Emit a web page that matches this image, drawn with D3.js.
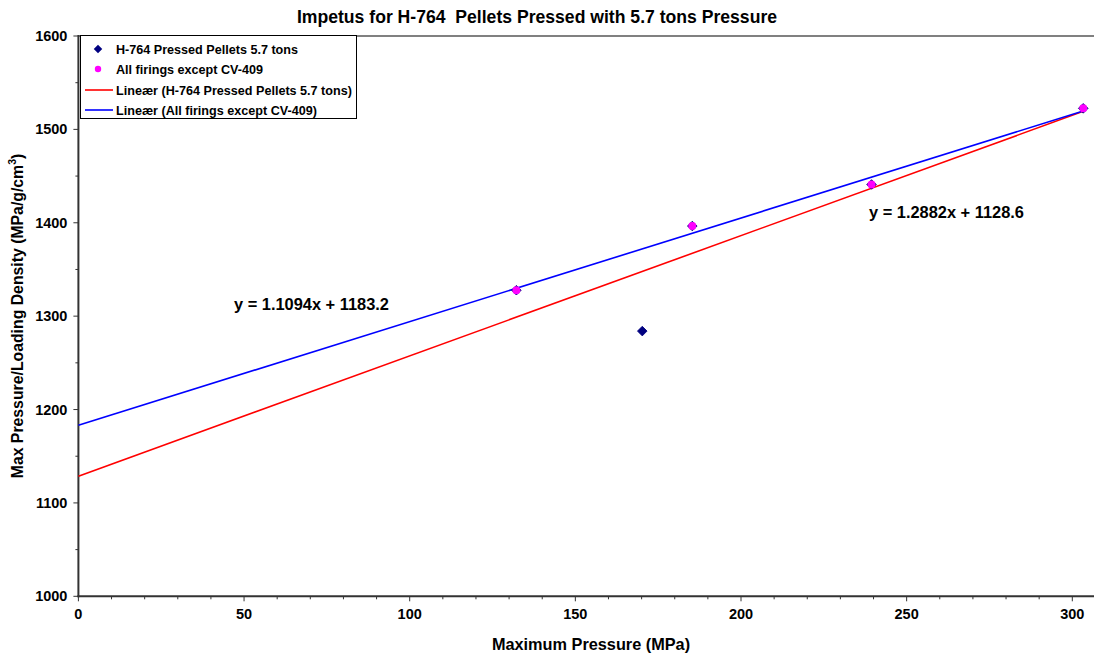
<!DOCTYPE html>
<html><head><meta charset="utf-8">
<script src="https://cdn.jsdelivr.net/npm/d3@7"></script>
<style>
body{margin:0;background:#fff;}
text{font-family:"Liberation Sans",Arial,sans-serif;font-weight:bold;fill:#000;}
</style></head>
<body><svg id="c" width="1094" height="656"></svg>
<script>
// ---- data ----
const h764X = [132.2, 170.2, 185.3, 239.4, 303.3];
const h764Y = [1327.8, 1284.0, 1396.5, 1441.0, 1522.5];
const allX = [132.2, 185.3, 239.4, 303.3];
const allY = [1327.8, 1396.5, 1441.0, 1522.5];
const trendRed = {slope: 1.2882, intercept: 1128.6};
const trendBlue = {slope: 1.1094, intercept: 1183.2};
const xTicks = [0, 50, 100, 150, 200, 250, 300];
const yTicks = [1000, 1100, 1200, 1300, 1400, 1500, 1600];
const legendLabels = ["H-764 Pressed Pellets 5.7 tons", "All firings except CV-409",
  "Lineær (H-764 Pressed Pellets 5.7 tons)", "Lineær (All firings except CV-409)"];
const titleText = "Impetus for H-764\u00a0 Pellets Pressed with 5.7 tons Pressure";
const xTitle = "Maximum Pressure (MPa)";

const svg = d3.select("#c");
const x = d3.scaleLinear().domain([0, 300]).range([78.4, 1072.3]);
const y = d3.scaleLinear().domain([1000, 1600]).range([596.3, 36]);
const xEnd = 1094;

// top gray border
svg.append("line").attr("x1", x(0)).attr("x2", xEnd).attr("y1", y(1600)).attr("y2", y(1600))
  .attr("stroke", "#808080").attr("stroke-width", 2);

// X axis
const gx = svg.append("g");
gx.append("line").attr("x1", x(0)-1).attr("x2", xEnd).attr("y1", y(1000)).attr("y2", y(1000))
  .attr("stroke", "#333").attr("stroke-width", 2);
const xMinor = d3.range(0, 310, 10);
gx.selectAll(".xm").data(xMinor).join("line")
  .attr("x1", d => x(d)).attr("x2", d => x(d))
  .attr("y1", y(1000)).attr("y2", d => y(1000) + (d % 50 === 0 ? 5 : 3))
  .attr("stroke", "#333").attr("stroke-width", 1);
gx.selectAll(".xl").data(xTicks).join("text")
  .attr("x", d => x(d)).attr("y", y(1000) + 23).attr("text-anchor", "middle")
  .attr("font-size", 14.5).text(d => d);

// Y axis
const gy = svg.append("g");
gy.append("line").attr("x1", x(0)).attr("x2", x(0)).attr("y1", y(1600)-1).attr("y2", y(1000)+1)
  .attr("stroke", "#333").attr("stroke-width", 2);
const yMinor = d3.range(1000, 1650, 50);
gy.selectAll(".ym").data(yMinor).join("line")
  .attr("x1", d => x(0) - (d % 100 === 0 ? 5 : 3)).attr("x2", x(0))
  .attr("y1", d => y(d)).attr("y2", d => y(d))
  .attr("stroke", "#333").attr("stroke-width", 1);
gy.selectAll(".yl").data(yTicks).join("text")
  .attr("x", x(0) - 11).attr("y", d => y(d) + 5).attr("text-anchor", "end")
  .attr("font-size", 14.5).text(d => d);

// trend lines
const line = d3.line().x(d => x(d[0])).y(d => y(d[1]));
const xmax = d3.max(h764X);
svg.append("path").datum([[0, trendRed.intercept], [xmax, trendRed.intercept + trendRed.slope * xmax]])
  .attr("d", line).attr("stroke", "#FF0000").attr("stroke-width", 1.6).attr("fill", "none");
const xmaxB = d3.max(allX);
svg.append("path").datum([[0, trendBlue.intercept], [xmaxB, trendBlue.intercept + trendBlue.slope * xmaxB]])
  .attr("d", line).attr("stroke", "#0000FF").attr("stroke-width", 1.6).attr("fill", "none");

// markers
const diamond = d3.symbol().type(d3.symbolSquare).size(46);
svg.selectAll(".d").data(h764X.map((v, i) => [v, h764Y[i]])).join("path")
  .attr("d", diamond).attr("transform", d => `translate(${x(d[0])},${y(d[1])}) rotate(45)`)
  .attr("fill", "#000080").attr("stroke", "#000080").attr("stroke-width", 0.8);
svg.selectAll(".m").data(allX.map((v, i) => [v, allY[i]])).join("circle")
  .attr("cx", d => x(d[0])).attr("cy", d => y(d[1])).attr("r", 4)
  .attr("fill", "#FF00FF");

// equations
svg.append("text").attr("x", 234).attr("y", 310).attr("font-size", 16.4)
  .text(`y = ${trendBlue.slope}x + ${trendBlue.intercept}`);
svg.append("text").attr("x", 869).attr("y", 218).attr("font-size", 16.4)
  .text(`y = ${trendRed.slope}x + ${trendRed.intercept}`);

// legend
const lg = svg.append("g");
lg.append("rect").attr("x", 80.5).attr("y", 35.5).attr("width", 276).attr("height", 83)
  .attr("fill", "#fff").attr("stroke", "#000").attr("stroke-width", 1);
const ly = [49, 69, 90, 110];
lg.append("path").attr("d", d3.symbol().type(d3.symbolSquare).size(36)())
  .attr("transform", `translate(98,${ly[0]}) rotate(45)`).attr("fill", "#000080");
lg.append("circle").attr("cx", 98).attr("cy", ly[1]).attr("r", 3.2).attr("fill", "#FF00FF");
lg.append("line").attr("x1", 85).attr("x2", 113).attr("y1", ly[2]).attr("y2", ly[2])
  .attr("stroke", "#FF0000").attr("stroke-width", 1.6);
lg.append("line").attr("x1", 85).attr("x2", 113).attr("y1", ly[3]).attr("y2", ly[3])
  .attr("stroke", "#0000FF").attr("stroke-width", 1.6);
lg.selectAll(".lt").data(legendLabels).join("text")
  .attr("x", 116).attr("y", (d, i) => ly[i] + 4.5).attr("font-size", 12.6).text(d => d);

// titles
svg.append("text").attr("x", 537).attr("y", 23).attr("text-anchor", "middle")
  .attr("font-size", 17.6).text(titleText);
svg.append("text").attr("x", 591).attr("y", 650).attr("text-anchor", "middle")
  .attr("font-size", 16.3).text(xTitle);
const yt = svg.append("text").attr("transform", "translate(23,316) rotate(-90)")
  .attr("text-anchor", "middle").attr("font-size", 15.8);
yt.append("tspan").text("Max Pressure/Loading Density (MPa/g/cm");
yt.append("tspan").attr("font-size", 10.5).attr("dy", -7).text("3");
yt.append("tspan").attr("dy", 7).text(")");
</script></body></html>
